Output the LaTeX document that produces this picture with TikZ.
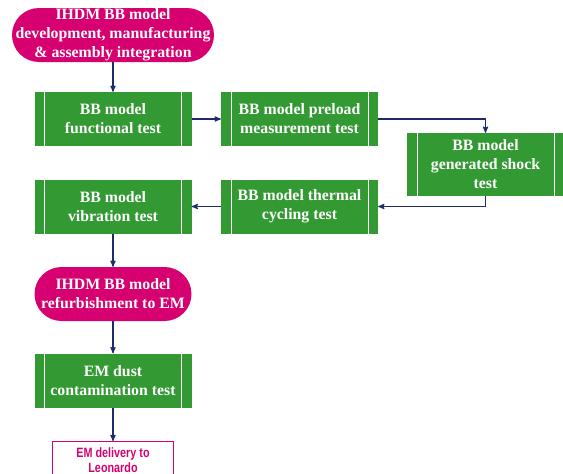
\documentclass[tikz,border=0pt]{standalone}
\usepackage{fontspec}
\setmainfont{Liberation Serif}
\newfontfamily\deliveryfont[FakeStretch=0.8]{Liberation Sans}
\usepackage{tikz}
\usetikzlibrary{positioning,shapes,arrows}

\definecolor{boxgreen}{RGB}{51,153,51}
\definecolor{pillmagenta}{RGB}{214,0,112}
\definecolor{arrownavy}{RGB}{28,45,105}

\begin{document}
\begin{tikzpicture}[x=1pt,y=-1pt]
	\tikzset{test box/.style={rectangle, fill=boxgreen, minimum width=157pt, minimum height=54pt,
	    text=white, font=\fontsize{15.8}{19}\selectfont\bfseries, align=center, inner sep=0pt,
	    path picture={\draw[white,line width=0.9pt]
	        ([xshift=10pt]path picture bounding box.north west) -- ([xshift=10pt]path picture bounding box.south west)
	        ([xshift=-10pt]path picture bounding box.north east) -- ([xshift=-10pt]path picture bounding box.south east);}},
	  pill/.style={rectangle, rounded corners=27pt, fill=pillmagenta, minimum height=54pt,
	    text=white, font=\fontsize{15.8}{19}\selectfont\bfseries, align=center, inner sep=0pt},
	  flow/.style={-stealth', draw=arrownavy, line width=1.2pt}}
	\useasboundingbox (0,0) rectangle (563,474);
	\node[pill, minimum width=202pt] (dev) at (113,35) {IHDM BB model\\development, manufacturing\\\& assembly integration};
	\node[test box] (func) at (113,119) {BB model\\functional test};
	\node[test box] (preload) at (299.5,119) {BB model preload\\measurement test};
	\node[test box, minimum height=63pt] (shock) at (485.5,164.5) {BB model\\generated shock\\test};
	\node[test box] (thermal) at (299.5,206.5) {BB model thermal\\cycling test};
	\node[test box] (vib) at (113,206.5) {BB model\\vibration test};
	\node[pill, minimum width=157pt] (refurb) at (113,294) {IHDM BB model\\refurbishment to EM};
	\node[test box] (dust) at (113,380.5) {EM dust\\contamination test};
	\node[rectangle, draw=pillmagenta, line width=1pt, fill=white, minimum width=121pt, minimum height=37pt,
	    anchor=north, text=pillmagenta, align=center, inner sep=0pt,
	    font=\deliveryfont\fontsize{13.5}{15}\selectfont\bfseries] (deliv) at (113,441) {EM delivery to\\Leonardo};
	\draw[flow] (dev) -- (func);
	\draw[flow] (func) -- (preload);
	\draw[flow] (preload.east) -| (shock.north);
	\draw[flow] (shock.south) |- (thermal.east);
	\draw[flow] (thermal) -- (vib);
	\draw[flow] (vib) -- (refurb);
	\draw[flow] (refurb) -- (dust);
	\draw[flow] (dust) -- (deliv);
\end{tikzpicture}
\end{document}
